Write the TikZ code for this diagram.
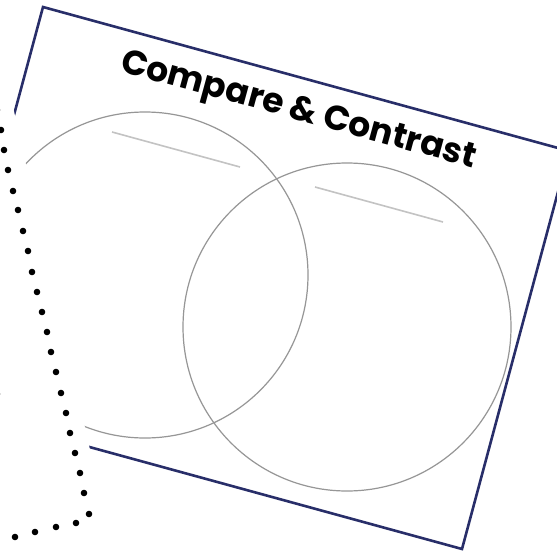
\documentclass[tikz,border=0pt]{standalone}
\usepackage{fontspec}
\newfontfamily\titlefont{Poppins}
\definecolor{navy}{RGB}{40,46,105}
\definecolor{ringgray}{RGB}{150,150,150}
\definecolor{blankgray}{RGB}{195,195,195}
\begin{document}
\begin{tikzpicture}[x=1pt,y=-1pt,
  paper/.style={draw=navy,line width=2.6pt,fill=white,line join=miter},
  ring/.style={draw=ringgray,line width=1.2pt},
  blank/.style={draw=blankgray,line width=1.6pt},
  dotmark/.style={fill=black},
  cover/.style={fill=white,draw=none}]
\useasboundingbox (0,0) rectangle (557,551);
% paper sheet
\coordinate (tl) at (43,7);
\coordinate (tr) at (569,151);
\coordinate (br) at (462,549);
\coordinate (bl) at (-64,405);
\draw[paper] (tl) -- (tr) -- (br) -- (bl) -- cycle;
% venn circles
\coordinate (lc) at (145,275);
\coordinate (rc) at (347,327);
\draw[ring] (lc) circle[radius=163];
\draw[ring] (rc) circle[radius=164];
% blank lines
\coordinate (l1) at (112,132);
\coordinate (l2) at (240,167);
\coordinate (r1) at (315,187);
\coordinate (r2) at (443,222);
\draw[blank] (l1) -- (l2);
\draw[blank] (r1) -- (r2);
% title
\node[rotate=-15.3,inner sep=0pt] (title) at (298,112)
  {\titlefont\bfseries\fontsize{34.5}{40}\selectfont Compare \& Contrast};
% cover on the left
\fill[cover] (-60,-40) -- (-20,-40) -- (117,570) -- (-60,570) -- cycle;
% dotted border
\foreach \p in {(-3,110),(1,130),(4,150),(8,170),(13,191),(18,210),(23,231),(28,251),
  (32,272),(37,292),(42,312),(47,332),(51,352),(56,372),(61,393),(66,413),(70,433),
  (75,453),(80,473),(84,493),(89,514),(76,523),(56,527),(35,532),(15,537),(-5,542),(-3,394)}
  \fill[dotmark] \p circle[radius=3.3];
\end{tikzpicture}
\end{document}
